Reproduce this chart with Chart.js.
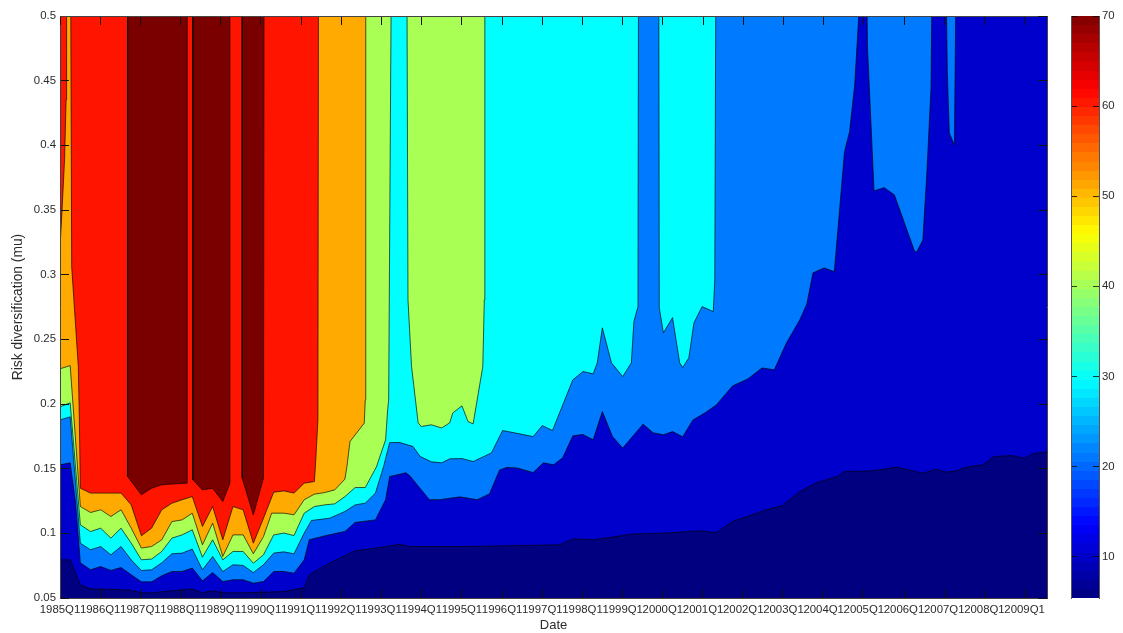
<!DOCTYPE html>
<html>
<head>
<meta charset="utf-8">
<title>Risk diversification</title>
<script src="https://cdn.jsdelivr.net/npm/chart.js@4"></script>
<style>
	body { margin: 0; background: #fff; }
	canvas { position: absolute; top: 0; }
	#contourChart { left: 0; }
	#colorbar { left: 1060px; }
</style>
</head>
<body>
<canvas id="contourChart" width="1123" height="633"></canvas>
<canvas id="colorbar" width="63" height="633"></canvas>
<script>
// x is the quarter counted from 1985Q1, y is mu where the surface crosses the level
// .52 means the level is not reached inside the axis
const yearLabels = ["1985Q1", "1986Q1", "1987Q1", "1988Q1", "1989Q1", "1990Q1", "1991Q1", "1992Q1", "1993Q1",
	"1994Q1", "1995Q1", "1996Q1", "1997Q1", "1998Q1", "1999Q1", "2000Q1", "2001Q1", "2002Q1", "2003Q1",
	"2004Q1", "2005Q1", "2006Q1", "2007Q1", "2008Q1", "2009Q1"];
const labelStep = 3.95; // the labels sit a little tighter than one year in the original
const barTicks = [10, 20, 30, 40, 50, 60, 70];

const contour5 = [[0, .05], [97, .05]];
const contour10 = [[0, .0795], [1, .0795], [2, .0602], [3, .0571], [5, .0567], [7, .056], [8, .054], [9, .054], [11, .0556],
	[13, .057], [14, .054], [15, .0556], [16, .054], [18, .054], [22, .055], [24, .058], [24.5, .068], [26.2, .0757],
	[27.5, .0808], [29, .0865], [31, .0885], [33.4, .0916], [34.4, .0898], [40, .0898], [49.1, .0911], [50.4, .0957],
	[52.4, .095], [56.3, .0994], [59.6, .1002], [62.9, .102], [64.5, .1006], [66.1, .1091], [69.4, .1182], [71, .1215],
	[72.7, .1323], [74.4, .1393], [76.4, .1439], [77.1, .1478], [79.9, .1483], [82.2, .1512], [84.8, .1465], [86.1, .1496],
	[87.1, .1473], [88.1, .1483], [89.1, .1512], [90.7, .153], [91.8, .1594], [93.6, .1601], [94.8, .1581], [95.6, .1615],
	[96.8, .1628], [97, .163]];
const contour20 = [[0, .153], [1, .1545], [1.5, .126], [2, .0772], [3, .0718], [4, .0743], [5, .0713], [6, .0736], [7, .068],
	[8, .0625], [9, .0625], [10, .0672], [11, .0705], [12, .0705], [13, .0731], [14, .0633], [15, .0697], [16, .0627],
	[17, .0641], [18, .0641], [19, .0615], [20, .0627], [21, .0705], [22, .0705], [23, .0692], [24, .0795], [24.5, .095],
	[26.4, .0988], [28, .1014], [29, .1084], [31, .1104], [32, .126], [32.4, .1439], [34, .1468], [34.4, .1444], [36.3, .126],
	[37.3, .126], [39.3, .1282], [41, .126], [42.2, .1305], [43.2, .149], [43.9, .1509], [44.9, .1506], [46.5, .147],
	[47.5, .1545], [48.5, .153], [49.4, .1584], [50.4, .1754], [51.4, .1764], [52.4, .1723], [53.3, .1942], [54.3, .1748],
	[55.3, .1659], [57.3, .1844], [58.3, .1777], [59.3, .1762], [60.2, .1787], [61.2, .1746], [62.2, .1877], [63.4, .1932],
	[64.5, .1993], [66.1, .214], [67.6, .2194], [69, .2279], [70.2, .2264], [71.4, .2473], [72.7, .265], [73.4, .2774],
	[74, .3014], [75.1, .3052], [76.1, .3024], [77.1, .3951], [77.6, .4106], [78.1, .4467], [78.5, .5], [78.6, .52],
	[79.3, .52], [79.35, .4776], [80, .3648], [81, .3673], [82, .3617], [84, .3178], [84.2, .3178], [84.8, .3269],
	[85.2, .3797], [85.6, .4444], [85.7, .52], [87.1, .52], [87.2, .457], [87.4, .4096], [87.9, .4003], [88.05, .52], [97, .52]];
const contour30 = [[0, .1877], [1, .1901], [2, .0924], [3, .0873], [4, .0898], [5, .0834], [6, .0898], [7, .0795], [8, .0713],
	[9, .0718], [10, .0772], [11, .0842], [12, .0847], [13, .0878], [14, .0718], [15, .0821], [16, .0705], [17, .0757],
	[18, .0752], [19, .0697], [20, .0757], [21, .0847], [22, .0857], [23, .0842], [24, .1002], [24.7, .1099], [26.5, .1117],
	[28, .1169], [29, .122], [30, .1233], [31, .1311], [31.8, .1516], [32.4, .1702], [33.4, .1702], [34.7, .1671], [35.4, .1594],
	[36.5, .1553], [37.5, .1545], [38.3, .1576], [39.5, .1578], [40.6, .1555], [42.4, .1622], [43.5, .1795], [46.5, .1748],
	[47.4, .1833], [48.4, .1795], [50.4, .2187], [51.4, .2251], [52.4, .2233], [52.8, .2318], [53.3, .2589], [54.2, .2318],
	[55.3, .2212], [56.15, .2318], [56.4, .2637], [56.8, .2753], [56.85, .52], [58.85, .52], [58.9, .2743], [59.3, .255],
	[60.2, .2668], [60.9, .2318], [61.2, .2282], [61.8, .2357], [62.3, .2627], [63.1, .2753], [64.2, .2715], [64.35, .296],
	[64.45, .52], [97, .52]];
const contour40 = [[0, .1978], [1, .2009], [2, .1066], [3, .1014], [4, .104], [5, .0963], [6, .104], [7, .0924], [8, .0795],
	[9, .0801], [10, .086], [11, .0963], [12, .0988], [13, .1027], [14, .0816], [15, .095], [16, .0795], [17, .086], [18, .086],
	[19, .0769], [20, .0834], [21, .0988], [22, .1002], [23, .0983], [24, .1156], [25, .1207], [26, .122], [27, .1228],
	[28, .1284], [29, .1354], [30, .1354], [31.1, .1514], [32, .1723], [32.2, .1955], [32.3, .2032], [32.55, .52], [34.1, .52],
	[34.2, .2805], [34.55, .2289], [35.2, .1854], [35.5, .1826], [36.5, .1839], [37.5, .1815], [38.3, .1854], [38.6, .1931],
	[39.5, .1986], [40.1, .1864], [40.6, .1846], [41.55, .2289], [41.7, .2805], [41.75, .52], [97, .52]];
const contour50 = [[0, .2272], [1, .2297], [2, .1207], [3, .1161], [4, .1182], [5, .113], [6, .1182], [7, .104], [8, .0886],
	[9, .0898], [10, .095], [11, .1091], [12, .1104], [13, .1156], [14, .0911], [15, .1079], [16, .0821], [17, .0988], [18, .0988],
	[19, .0842], [20, .0975], [20.8, .1156], [22, .1156], [23, .1143], [24, .126], [25, .1303], [26, .1315], [27, .1336],
	[28, .1419], [28.2, .1516], [28.5, .171], [29.9, .1852], [30, .2032], [30.05, .52], [97, .52]];
const contour60 = [[0, .3207], [.2, .35], [.45, .389], [.6, .4352], [.65, .52], [1.05, .52], [1.15, .306], [1.8, .2287], [1.9, .1877], [2, .1349],
	[3, .1311], [4, .1311], [5, .1311], [6, .1311], [7, .122], [8, .0981], [9, .104], [10, .1182], [11, .1233], [12, .126],
	[13, .1284], [14, .1053], [15, .1207], [16, .095], [17, .1207], [18, .1182], [19, .0924], [20, .1117], [21, .1318],
	[22, .1328], [23, .1311], [24, .1388], [25, .14], [25.1, .1516], [25.35, .1877], [25.4, .52], [97, .52]];
const contour70 = [[0, .52], [6.65, .52], [6.65, .1439], [8, .1298], [9, .1349], [10, .1375], [11, .1381], [12.5, .1388], [12.5, .52],
	[13.05, .52], [13.05, .1414], [14, .1336], [15, .1349], [16, .1246], [16.7, .1388], [16.7, .52], [17.9, .52], [17.9, .1427],
	[19, .1143], [20, .1427], [20.05, .52], [97, .52]];

const bandColors = {
	5: "rgb(0,0,128)",
	10: "rgb(0,0,204)",
	20: "rgb(0,122,255)",
	30: "rgb(0,255,255)",
	40: "rgb(170,255,85)",
	50: "rgb(255,170,0)",
	60: "rgb(255,20,0)",
	70: "rgb(122,0,0)",
};
const textColor = "#2b2b2b";
const fontFamily = "'Liberation Sans', Arial, sans-serif";

const band = (level, pairs) => ({
	label: String(level),
	data: pairs.map((p) => ({ x: p[0], y: p[1] })),
	backgroundColor: bandColors[level],
	borderColor: level === 5 ? "transparent" : "rgba(0,0,0,0.65)",
	borderWidth: 1,
	pointRadius: 0,
	tension: 0,
	fill: "end",
});

// mirrored axes only carry the inward ticks of the box
const boxGrid = { drawOnChartArea: false, tickLength: -9, tickColor: "#111", z: 2 };
const boxBorder = { color: "#444", z: 2 };

// sizes are fixed here so the plot keeps the same box as the original
const fixHeight = (h) => (s) => {
	s.height = h;
	s.paddingTop = 0;
	s.paddingBottom = 0;
	s.paddingLeft = 0;
	s.paddingRight = 0;
};
const fixWidth = (w) => (s) => {
	s.width = w;
	s.paddingTop = 0;
	s.paddingBottom = 0;
	s.paddingLeft = 0;
	s.paddingRight = 0;
};

new Chart(document.getElementById("contourChart"), {
	type: "line",
	data: {
		datasets: [
			band(70, contour70),
			band(60, contour60),
			band(50, contour50),
			band(40, contour40),
			band(30, contour30),
			band(20, contour20),
			band(10, contour10),
			band(5, contour5),
		],
	},
	options: {
		responsive: false,
		animation: false,
		layout: { padding: { top: 16, right: 76, left: 0, bottom: 0 } },
		plugins: { legend: { display: false }, tooltip: { enabled: false } },
		scales: {
			x: {
				type: "linear",
				min: 0,
				max: 97,
				position: "bottom",
				afterFit: fixHeight(35),
				grid: boxGrid,
				border: boxBorder,
				title: { display: true, text: "Date", color: textColor, font: { family: fontFamily, size: 13 }, padding: { top: 6, bottom: 0 } },
				ticks: {
					stepSize: labelStep,
					autoSkip: false,
					includeBounds: false,
					maxRotation: 0,
					minRotation: 0,
					padding: 14,
					color: textColor,
					font: { family: fontFamily, size: 11.4 },
					callback: (v) => yearLabels[Math.round(v / labelStep)],
				},
			},
			y: {
				type: "linear",
				min: 0.05,
				max: 0.5,
				position: "left",
				afterFit: fixWidth(60),
				grid: boxGrid,
				border: boxBorder,
				title: { display: true, text: "Risk diversification (mu)", color: textColor, font: { family: fontFamily, size: 13.8 }, padding: { top: 10, bottom: 0 } },
				ticks: {
					stepSize: 0.05,
					padding: 13,
					color: textColor,
					font: { family: fontFamily, size: 11.4 },
					callback: (v) => String(parseFloat(v.toFixed(2))),
				},
			},
			xTop: {
				type: "linear",
				axis: "x",
				min: 0,
				max: 97,
				position: "top",
				afterFit: fixHeight(0),
				grid: boxGrid,
				border: boxBorder,
				ticks: { stepSize: labelStep, display: false, includeBounds: false },
			},
			yRight: {
				type: "linear",
				axis: "y",
				min: 0.05,
				max: 0.5,
				position: "right",
				afterFit: fixWidth(0),
				grid: boxGrid,
				border: boxBorder,
				ticks: { stepSize: 0.05, display: false },
			},
		},
	},
});

// jet colours of the 64 steps of the colour bar
const jetColor = (t) => {
	const ch = (c) => Math.round(255 * Math.max(0, Math.min(1, 1.5 - Math.abs(4 * t - c))));
	return "rgb(" + ch(3) + "," + ch(2) + "," + ch(1) + ")";
};
const barFill = (context) => {
	const area = context.chart.chartArea;
	if (!area) return "#000";
	const grad = context.chart.ctx.createLinearGradient(0, area.bottom, 0, area.top);
	for (let i = 0; i < 64; i++) {
		grad.addColorStop(i / 64, jetColor((i + 0.5) / 64));
		grad.addColorStop((i + 1) / 64, jetColor((i + 0.5) / 64));
	}
	return grad;
};

const barGrid = { drawOnChartArea: false, tickLength: -6, tickColor: "rgba(0,0,0,0.75)", z: 2 };

new Chart(document.getElementById("colorbar"), {
	type: "bar",
	data: {
		labels: ["z"],
		datasets: [{ data: [[5.4, 70]], backgroundColor: barFill, barPercentage: 1, categoryPercentage: 1 }],
	},
	options: {
		responsive: false,
		animation: false,
		layout: { padding: { top: 16, bottom: 35, left: 11, right: 0 } },
		plugins: { legend: { display: false }, tooltip: { enabled: false } },
		scales: {
			x: { display: false },
			y: {
				min: 5.4,
				max: 70,
				position: "right",
				afterFit: (s) => { s.width = 24; },
				afterBuildTicks: (s) => { s.ticks = barTicks.map((v) => ({ value: v })); },
				grid: barGrid,
				border: { color: "#555", z: 2 },
				ticks: { padding: 9, color: textColor, font: { family: fontFamily, size: 11.4 } },
			},
			yLeft: {
				type: "linear",
				axis: "y",
				min: 5.4,
				max: 70,
				position: "left",
				afterFit: (s) => { s.width = 0; },
				afterBuildTicks: (s) => { s.ticks = barTicks.map((v) => ({ value: v })); },
				grid: barGrid,
				border: { color: "#555", z: 2 },
				ticks: { display: false },
			},
		},
	},
});
</script>
</body>
</html>
